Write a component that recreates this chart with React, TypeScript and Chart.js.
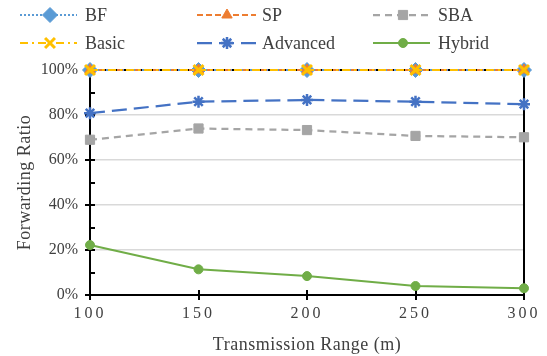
import React, { useEffect, useRef } from "react";
import { Chart, registerables } from "chart.js";
import { drawPoint } from "chart.js/helpers";

Chart.register(...registerables);

const categories = ["100", "150", "200", "250", "300"];
const bfValues = [100, 100, 100, 100, 100];
const spValues = [100, 100, 100, 100, 100];
const sbaValues = [69, 74, 73.3, 70.7, 70.1];
const basicValues = [100, 100, 100, 100, 100];
const advancedValues = [80.8, 85.9, 86.7, 85.9, 84.8];
const hybridValues = [22.2, 11.4, 8.4, 4, 3];
const yTickValues = [0, 20, 40, 60, 80, 100];
const xTitle = "Transmission Range (m)";
const yTitle = "Forwarding Ratio";

const FONT = "'Liberation Serif', 'Times New Roman', serif";
const TEXT = "#404040";

type Series = {
  label: string;
  data: number[];
  color: string;
  dash: number[];
  width: number;
  style: string;
  radius: number;
  pbw: number;
};

const series: Series[] = [
  { label: "BF", data: bfValues, color: "#5B9BD5", dash: [2, 2], width: 2, style: "rectRot", radius: 7.5, pbw: 1 },
  { label: "SP", data: spValues, color: "#ED7D31", dash: [6, 3], width: 2, style: "triangle", radius: 6, pbw: 1 },
  { label: "SBA", data: sbaValues, color: "#A5A5A5", dash: [7, 5], width: 2.25, style: "rect", radius: 6.5, pbw: 1 },
  { label: "Basic", data: basicValues, color: "#FFC000", dash: [8, 4, 2, 4], width: 2, style: "crossRot", radius: 7, pbw: 3 },
  { label: "Advanced", data: advancedValues, color: "#4472C4", dash: [15, 7], width: 2.25, style: "star", radius: 6, pbw: 2.5 },
  { label: "Hybrid", data: hybridValues, color: "#70AD47", dash: [], width: 2, style: "circle", radius: 4.5, pbw: 1 },
];

const legendCols = [
  { x0: 20, mx: 50, x1: 77, tx: 85 },
  { x0: 197, mx: 227, x1: 256, tx: 262 },
  { x0: 373, mx: 403, x1: 430, tx: 438 },
];
const legendRows = [15, 43];

const decorPlugin = {
  id: "decor",
  beforeDatasetsDraw(chart: any) {
    const { ctx, chartArea } = chart;
    const { left, right, top, bottom } = chartArea;
    const ys = chart.scales.y;
    const xs = chart.scales.x;
    ctx.save();
    ctx.strokeStyle = "#000";
    ctx.lineWidth = 2;
    ctx.setLineDash([]);
    ctx.beginPath();
    ctx.moveTo(left, top);
    ctx.lineTo(right, top);
    ctx.moveTo(left, top - 1);
    ctx.lineTo(left, bottom + 1);
    ctx.moveTo(right, top - 1);
    ctx.lineTo(right, bottom + 1);
    ctx.moveTo(left - 1, bottom);
    ctx.lineTo(right + 1, bottom);
    ctx.stroke();
    // y ticks
    ctx.beginPath();
    for (let v = 0; v <= 100; v += 10) {
      const py = Math.round(ys.getPixelForValue(v));
      if (v % 20 === 0) {
        ctx.moveTo(left - 5, py);
        ctx.lineTo(left + 5, py);
      } else {
        ctx.moveTo(left, py);
        ctx.lineTo(left + 5, py);
      }
    }
    categories.forEach((_, i) => {
      const px = Math.round(xs.getPixelForValue(i));
      ctx.moveTo(px, bottom - 5);
      ctx.lineTo(px, bottom + 5);
    });
    ctx.stroke();
    ctx.restore();
  },
  afterDraw(chart: any) {
    const { ctx, chartArea } = chart;
    const xs = chart.scales.x;
    ctx.save();
    ctx.fillStyle = TEXT;
    // x tick labels with letter spacing
    ctx.font = `16px ${FONT}`;
    (ctx as any).letterSpacing = "3px";
    ctx.textAlign = "center";
    ctx.textBaseline = "middle";
    categories.forEach((c, i) => {
      ctx.fillText(c, xs.getPixelForValue(i), 314);
    });
    // axis titles
    ctx.font = `18px ${FONT}`;
    (ctx as any).letterSpacing = "0.5px";
    ctx.fillText(xTitle, (chartArea.left + chartArea.right) / 2, 345);
    ctx.save();
    ctx.translate(25, (chartArea.top + chartArea.bottom) / 2);
    ctx.rotate(-Math.PI / 2);
    ctx.fillText(yTitle, 0, 0);
    ctx.restore();
    (ctx as any).letterSpacing = "0px";
    // legend
    series.forEach((s, i) => {
      const col = legendCols[i % 3];
      const y = legendRows[Math.floor(i / 3)];
      ctx.save();
      ctx.strokeStyle = s.color;
      ctx.lineWidth = s.width;
      ctx.setLineDash(s.dash);
      ctx.beginPath();
      ctx.moveTo(col.x0, y);
      ctx.lineTo(col.x1, y);
      ctx.stroke();
      ctx.setLineDash([]);
      ctx.fillStyle = s.color;
      ctx.strokeStyle = s.color;
      ctx.lineWidth = s.pbw;
      drawPoint(ctx, { pointStyle: s.style, radius: s.radius, rotation: 0, borderWidth: s.pbw } as any, col.mx, y);
      ctx.restore();
      ctx.fillStyle = TEXT;
      ctx.font = `18px ${FONT}`;
      ctx.textAlign = "left";
      ctx.textBaseline = "middle";
      ctx.fillText(s.label, col.tx, y + 1);
    });
    ctx.restore();
  },
};

export default function App() {
  const ref = useRef<HTMLCanvasElement>(null);
  useEffect(() => {
    if (!ref.current) return;
    const chart = new Chart(ref.current, {
      type: "line",
      data: {
        labels: categories,
        datasets: series.map((s, i) => ({
          label: s.label,
          data: s.data,
          borderColor: s.color,
          backgroundColor: s.color,
          borderWidth: s.width,
          borderDash: s.dash,
          pointStyle: s.style as any,
          pointRadius: s.radius,
          pointHoverRadius: s.radius,
          pointBorderWidth: s.pbw,
          pointBackgroundColor: s.color,
          pointBorderColor: s.color,
          tension: 0,
          fill: false,
          clip: false as any,
          order: 5 - i,
        })),
      },
      options: {
        animation: false,
        responsive: false,
        maintainAspectRatio: false,
        layout: { padding: { top: 70, right: 23, left: 0, bottom: 0 } },
        plugins: { legend: { display: false }, tooltip: { enabled: false } },
        scales: {
          x: {
            type: "category",
            offset: false,
            grid: { display: false, drawTicks: false },
            border: { display: false },
            ticks: { display: false },
            afterFit: (scale: any) => {
              scale.height = 61;
            },
          },
          y: {
            min: 0,
            max: 100,
            afterBuildTicks: (scale: any) => {
              const t: any[] = [];
              for (let v = 0; v <= 100; v += 10) t.push({ value: v });
              scale.ticks = t;
            },
            ticks: {
              autoSkip: false,
              padding: 6,
              color: TEXT,
              font: { family: FONT, size: 16 },
              callback: (v: any) => (yTickValues.includes(Number(v)) ? `${v}%` : ""),
            },
            grid: {
              drawTicks: true,
              tickLength: 6,
              tickColor: "transparent",
              color: (c: any) => {
                const v = c.tick ? c.tick.value : -1;
                return v > 0 && v < 100 && v % 20 === 0 ? "#d9d9d9" : "transparent";
              },
              lineWidth: 1.5,
            },
            border: { display: false },
            afterFit: (scale: any) => {
              scale.width = 90;
            },
          },
        },
      },
      plugins: [decorPlugin],
    });
    return () => chart.destroy();
  }, []);
  return (
    <div style={{ position: "absolute", left: 0, top: 0, width: 547, height: 356, background: "#fff" }}>
      <canvas ref={ref} width={547} height={356} style={{ width: 547, height: 356, display: "block" }} />
    </div>
  );
}
